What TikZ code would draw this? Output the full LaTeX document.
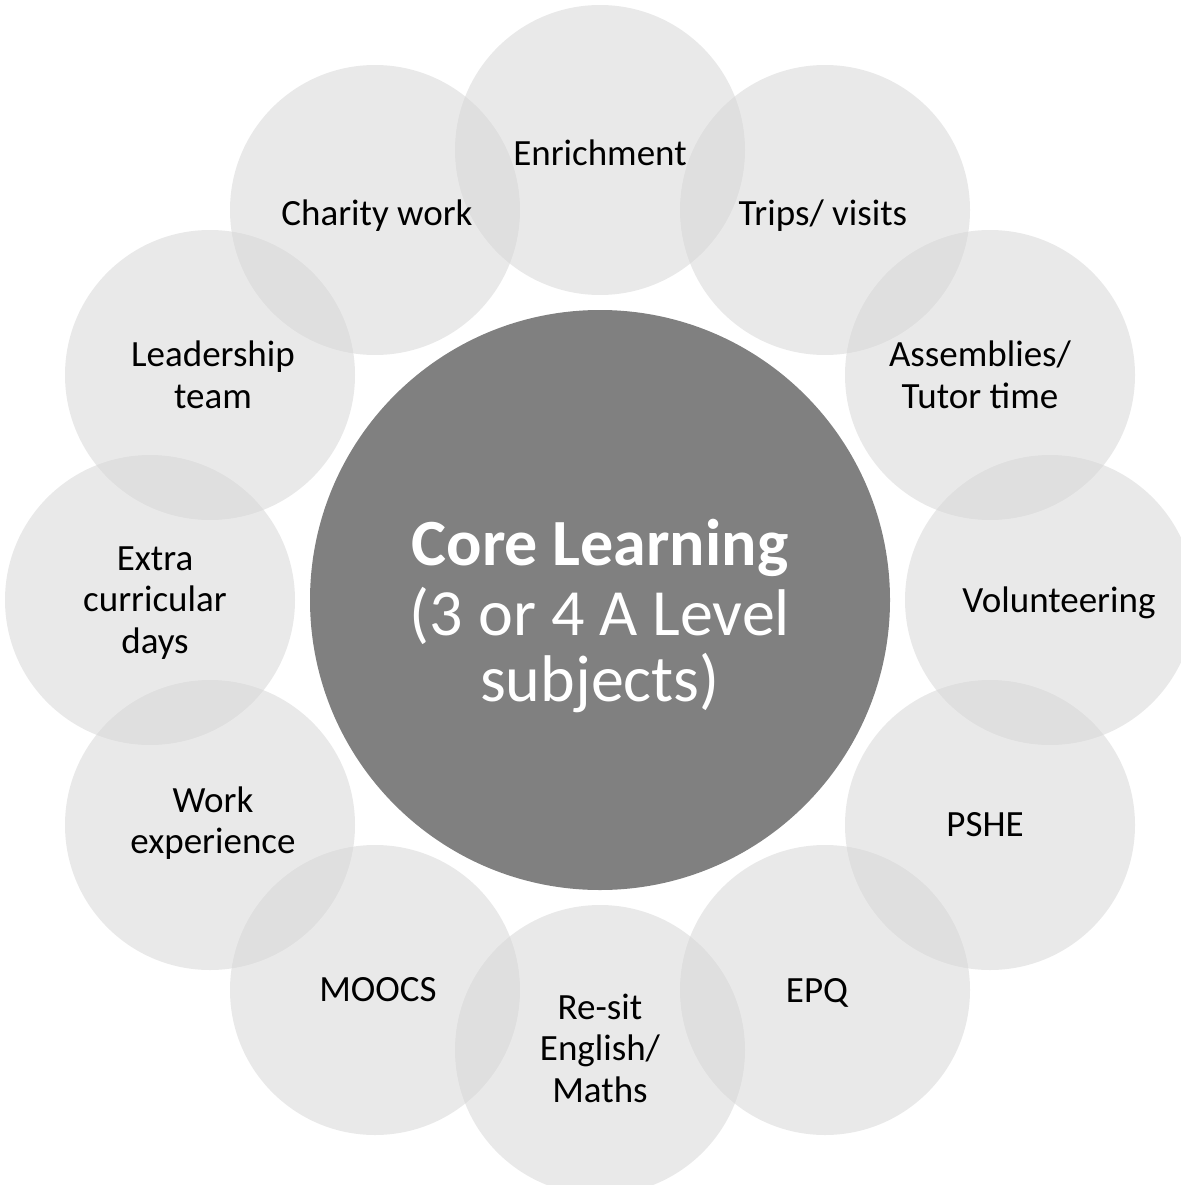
\documentclass[tikz,border=0pt]{standalone}
\usepackage{fontspec}
\setmainfont{Carlito}
\begin{document}
\begin{tikzpicture}[x=1pt,y=-1pt,
  petal/.style={circle, minimum size=290pt, inner sep=0pt, fill=black!17, fill opacity=0.5},
  lbl/.style={align=center, font=\fontsize{37}{41.5}\selectfont, text=black, inner sep=0pt},
  core/.style={circle, minimum size=580pt, inner sep=0pt, fill=black!50}]
\useasboundingbox (0,0) rectangle (1180,1185);
\node[core] (core) at (600,600) {};
\node[text=white, align=center, font=\fontsize{66}{66}\selectfont] (coretext) at (600,616) {\textbf{Core Learning}\\[4pt](3 or 4 A Level\\subjects)};
\node[petal] (enr) at (600,150) {};
\node[petal] (trips) at (825,210) {};
\node[petal] (ass) at (990,375) {};
\node[petal] (vol) at (1050,600) {};
\node[petal] (pshe) at (990,825) {};
\node[petal] (epq) at (825,990) {};
\node[petal] (resit) at (600,1050) {};
\node[petal] (mooc) at (375,990) {};
\node[petal] (work) at (210,825) {};
\node[petal] (extra) at (150,600) {};
\node[petal] (lead) at (210,375) {};
\node[petal] (char) at (375,210) {};
\node[lbl] (enrt) at ([yshift=-3pt]enr.center) {Enrichment};
\node[lbl] (tripst) at ([xshift=-2pt,yshift=-6pt]trips.center) {Trips/ visits};
\node[lbl] (asst) at ([xshift=-10pt]ass.center) {Assemblies/\\Tutor time};
\node[lbl] (volt) at ([xshift=9pt,yshift=-3pt]vol.center) {Volunteering};
\node[lbl] (pshet) at ([xshift=-5pt]pshe.center) {PSHE};
\node[lbl] (epqt) at ([xshift=-8pt,yshift=-3pt]epq.center) {EPQ};
\node[lbl] (resitt) at ([yshift=2pt]resit.center) {Re-sit\\English/\\Maths};
\node[lbl] (mooct) at ([xshift=3pt]mooc.center) {MOOCS};
\node[lbl] (workt) at ([xshift=3pt,yshift=2pt]work.center) {Work\\experience};
\node[lbl] (extrat) at ([xshift=5pt,yshift=-3pt]extra.center) {Extra\\curricular\\days};
\node[lbl] (leadt) at ([xshift=3pt]lead.center) {Leadership\\team};
\node[lbl] (chart) at ([xshift=2pt,yshift=-6pt]char.center) {Charity work};
\end{tikzpicture}
\end{document}
